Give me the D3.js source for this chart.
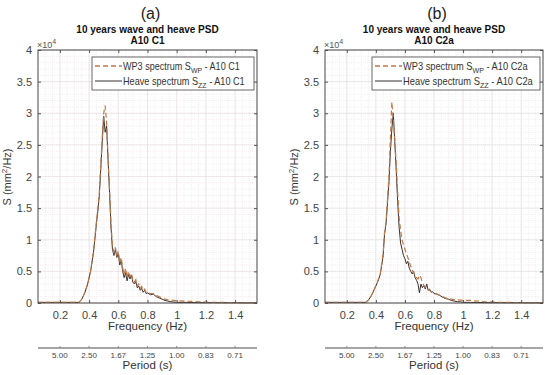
<!DOCTYPE html>
<html>
<head>
<meta charset="utf-8">
<script src="https://cdn.jsdelivr.net/npm/d3@7"></script>
<style>
  body { margin: 0; background: #fff; }
  svg text { font-family: "Liberation Sans", Arial, sans-serif; }
</style>
</head>
<body>
<svg id="chart" width="550" height="375"></svg>
<script>
// frequency grid (Hz) shared by all curves
const freq = [0.05, 0.10, 0.15, 0.20, 0.25, 0.30, 0.33, 0.35, 0.37, 0.39, 0.41, 0.43, 0.45, 0.46, 0.47, 0.49,
  0.50, 0.51, 0.52, 0.53, 0.54, 0.55, 0.56, 0.57, 0.58, 0.59, 0.60, 0.61, 0.62, 0.63, 0.64, 0.65, 0.66, 0.67,
  0.68, 0.69, 0.70, 0.71, 0.72, 0.73, 0.74, 0.75, 0.76, 0.77, 0.78, 0.79, 0.80, 0.82, 0.84, 0.86, 0.88, 0.90,
  0.92, 0.94, 0.96, 0.98, 1.00, 1.05, 1.10, 1.15, 1.20, 1.25, 1.30, 1.35, 1.40, 1.45, 1.50, 1.55];

// PSD values in units of 1e4 mm^2/Hz
const waveA = [0.01, 0.01, 0.01, 0.01, 0.01, 0.01, 0.01, 0.06, 0.16, 0.30, 0.50, 0.82, 1.28, 1.50, 1.75, 2.62,
  3.00, 3.12, 2.85, 2.30, 1.80, 1.25, 0.90, 0.80, 0.88, 0.76, 0.82, 0.64, 0.72, 0.55, 0.45, 0.55, 0.40, 0.50,
  0.42, 0.47, 0.36, 0.33, 0.37, 0.27, 0.30, 0.23, 0.26, 0.20, 0.22, 0.17, 0.18, 0.15, 0.15, 0.12, 0.10, 0.08,
  0.06, 0.05, 0.045, 0.04, 0.035, 0.03, 0.025, 0.02, 0.015, 0.01, 0.01, 0.008, 0.008, 0.006, 0.006, 0.005];
const heaveA = [0.01, 0.01, 0.01, 0.01, 0.01, 0.01, 0.01, 0.06, 0.16, 0.30, 0.50, 0.80, 1.25, 1.45, 1.70, 2.55,
  2.95, 2.70, 2.80, 2.25, 1.75, 1.20, 0.85, 0.75, 0.85, 0.72, 0.78, 0.60, 0.68, 0.50, 0.40, 0.48, 0.35, 0.45,
  0.38, 0.44, 0.33, 0.30, 0.34, 0.24, 0.27, 0.20, 0.23, 0.17, 0.20, 0.15, 0.16, 0.13, 0.14, 0.10, 0.08, 0.06,
  0.04, 0.03, 0.02, 0.015, 0.01, 0.01, 0.008, 0.006, 0.005, 0.005, 0.004, 0.004, 0.004, 0.003, 0.003, 0.003];
const waveB = [0.01, 0.01, 0.01, 0.01, 0.01, 0.01, 0.01, 0.05, 0.12, 0.22, 0.33, 0.46, 0.78, 1.12, 1.28, 2.00,
  2.60, 3.18, 2.90, 2.60, 2.20, 1.75, 1.35, 1.15, 1.00, 0.92, 0.85, 0.78, 0.72, 0.65, 0.58, 0.52, 0.48, 0.44,
  0.40, 0.38, 0.44, 0.40, 0.32, 0.28, 0.25, 0.24, 0.22, 0.20, 0.18, 0.17, 0.16, 0.14, 0.12, 0.10, 0.08, 0.07,
  0.06, 0.05, 0.05, 0.045, 0.04, 0.04, 0.03, 0.02, 0.02, 0.01, 0.01, 0.008, 0.008, 0.006, 0.006, 0.005];
const heaveB = [0.01, 0.01, 0.01, 0.01, 0.01, 0.01, 0.01, 0.05, 0.12, 0.22, 0.32, 0.45, 0.75, 1.10, 1.25, 1.90,
  2.40, 2.75, 3.00, 2.55, 2.10, 1.60, 1.20, 0.95, 0.85, 0.75, 0.70, 0.62, 0.66, 0.55, 0.50, 0.46, 0.50, 0.40,
  0.36, 0.30, 0.16, 0.30, 0.24, 0.28, 0.22, 0.30, 0.20, 0.22, 0.17, 0.18, 0.15, 0.14, 0.12, 0.09, 0.07, 0.06,
  0.04, 0.03, 0.02, 0.02, 0.01, 0.01, 0.008, 0.006, 0.005, 0.005, 0.004, 0.004, 0.004, 0.003, 0.003, 0.003];

const yTicks = [0, 0.5, 1, 1.5, 2, 2.5, 3, 3.5, 4];
const freqTicks = [0.2, 0.4, 0.6, 0.8, 1.0, 1.2, 1.4];
const periodLabels = ['5.00', '2.50', '1.67', '1.25', '1.00', '0.83', '0.71'];

const panels = [
  { tag: '(a)', sub: 'A10 C1', wave: waveA, heave: heaveA, x0: 38, x1: 257, lx: 92, tw: [117, 122] },
  { tag: '(b)', sub: 'A10 C2a', wave: waveB, heave: heaveB, x0: 325, x1: 543, lx: 372, tw: [125, 130] }
];

const plotTop = 50, plotBottom = 303;
const waveColor = '#c27a45';
const heaveColor = '#3a3131';
const svg = d3.select('#chart');

panels.forEach(p => {
  const g = svg.append('g');
  const x = d3.scaleLinear().domain([0.05, 1.55]).range([p.x0, p.x1]);
  const y = d3.scaleLinear().domain([0, 4]).range([plotBottom, plotTop]);
  const cx = (p.x0 + p.x1) / 2;

  // minor + major grid
  const minorX = d3.range(0.05, 1.551, 0.05);
  const minorY = d3.range(0, 4.001, 0.1);
  g.append('g').selectAll('line').data(minorX).join('line')
    .attr('x1', d => x(d)).attr('x2', d => x(d)).attr('y1', plotTop).attr('y2', plotBottom)
    .attr('stroke', '#f1e6eb').attr('stroke-width', 0.7).attr('stroke-dasharray', '1,1');
  g.append('g').selectAll('line').data(minorY).join('line')
    .attr('y1', d => y(d)).attr('y2', d => y(d)).attr('x1', p.x0).attr('x2', p.x1)
    .attr('stroke', '#f1e6eb').attr('stroke-width', 0.7).attr('stroke-dasharray', '1,1');
  g.append('g').selectAll('line').data(freqTicks).join('line')
    .attr('x1', d => x(d)).attr('x2', d => x(d)).attr('y1', plotTop).attr('y2', plotBottom)
    .attr('stroke', '#e8e2e5').attr('stroke-width', 0.8);
  g.append('g').selectAll('line').data(yTicks).join('line')
    .attr('y1', d => y(d)).attr('y2', d => y(d)).attr('x1', p.x0).attr('x2', p.x1)
    .attr('stroke', '#e8e2e5').attr('stroke-width', 0.8);

  // curves
  const line = d3.line().x((d, i) => x(freq[i])).y(d => y(d));
  g.append('path').datum(p.heave).attr('d', line)
    .attr('fill', 'none').attr('stroke', heaveColor).attr('stroke-width', 1);
  g.append('path').datum(p.wave).attr('d', line)
    .attr('fill', 'none').attr('stroke', waveColor).attr('stroke-width', 1.2)
    .attr('stroke-dasharray', '5,3');

  // axes box with inward ticks
  const axStyle = sel => {
    sel.select('.domain').remove();
    sel.selectAll('.tick line').attr('stroke', '#555');
    sel.selectAll('.tick text').attr('fill', '#444').style('font-size', '11px')
      .style('font-family', '"Liberation Sans", Arial, sans-serif');
  };
  g.append('g').attr('transform', `translate(0,${plotBottom})`)
    .call(d3.axisBottom(x).tickValues(freqTicks).tickSize(-3).tickPadding(8).tickFormat(d3.format('~g')))
    .call(axStyle);
  g.append('g').attr('transform', `translate(0,${plotTop})`)
    .call(d3.axisTop(x).tickValues(freqTicks).tickSize(-3).tickFormat(''))
    .call(axStyle);
  g.append('g').attr('transform', `translate(${p.x0},0)`)
    .call(d3.axisLeft(y).tickValues(yTicks).tickSize(-3).tickPadding(6).tickFormat(d3.format('~g')))
    .call(axStyle);
  g.append('g').attr('transform', `translate(${p.x1},0)`)
    .call(d3.axisRight(y).tickValues(yTicks).tickSize(-3).tickFormat(''))
    .call(axStyle);
  g.append('rect').attr('x', p.x0).attr('y', plotTop).attr('width', p.x1 - p.x0).attr('height', plotBottom - plotTop)
    .attr('fill', 'none').attr('stroke', '#4a4a4a').attr('stroke-width', 1);

  // exponent marker
  const ex = g.append('text').attr('x', p.x0 - 1).attr('y', 48).attr('fill', '#555').style('font-size', '9px');
  ex.append('tspan').text('×10');
  ex.append('tspan').attr('dy', -4).style('font-size', '7px').text('4');

  // titles
  g.append('text').attr('x', cx + 3).attr('y', 19).attr('text-anchor', 'middle')
    .attr('fill', '#222').style('font-size', '16px').text(p.tag);
  g.append('text').attr('x', cx).attr('y', 33).attr('text-anchor', 'middle')
    .attr('fill', '#111').style('font-size', '10px').style('font-weight', 'bold')
    .text('10 years wave and heave PSD');
  g.append('text').attr('x', cx).attr('y', 44).attr('text-anchor', 'middle')
    .attr('fill', '#111').style('font-size', '10px').style('font-weight', 'bold').text(p.sub);

  // axis labels
  g.append('text').attr('x', cx).attr('y', 330).attr('text-anchor', 'middle')
    .attr('fill', '#333').style('font-size', '11.5px').text('Frequency (Hz)');
  const yl = g.append('text').attr('transform', `translate(${p.x0 - 27},177) rotate(-90)`)
    .attr('text-anchor', 'middle').attr('fill', '#333').style('font-size', '11px');
  yl.append('tspan').text('S (mm');
  yl.append('tspan').attr('dy', -4).style('font-size', '8px').text('2');
  yl.append('tspan').attr('dy', 4).text('/Hz)');

  // period axis (1/f at frequency ticks)
  const pg = g.append('g');
  pg.append('line').attr('x1', p.x0).attr('x2', p.x1).attr('y1', 348).attr('y2', 348)
    .attr('stroke', '#888').attr('stroke-width', 1.5);
  pg.selectAll('line.pt').data(freqTicks).join('line').attr('class', 'pt')
    .attr('x1', d => x(d)).attr('x2', d => x(d)).attr('y1', 346).attr('y2', 348)
    .attr('stroke', '#888');
  pg.selectAll('text').data(freqTicks).join('text')
    .attr('x', d => x(d)).attr('y', 358).attr('text-anchor', 'middle')
    .attr('fill', '#444').style('font-size', '8px').text((d, i) => periodLabels[i]);
  g.append('text').attr('x', cx).attr('y', 369).attr('text-anchor', 'middle')
    .attr('fill', '#333').style('font-size', '11.5px').text('Period (s)');

  // legend
  const lx = p.lx;
  const lg = g.append('g');
  lg.append('rect').attr('x', lx).attr('y', 57).attr('width', p.x1 - 3 - lx).attr('height', 33)
    .attr('fill', '#fff').attr('stroke', '#444').attr('stroke-width', 0.8);
  const items = [
    { name: 'WP3 spectrum S', sub: 'WP', color: waveColor, dash: '5,3' },
    { name: 'Heave spectrum S', sub: 'ZZ', color: heaveColor, dash: null }
  ];
  items.forEach((it, i) => {
    const yy = 66 + i * 15;
    lg.append('line').attr('x1', lx + 3).attr('x2', lx + 30).attr('y1', yy).attr('y2', yy)
      .attr('stroke', it.color).attr('stroke-width', it.dash ? 1.3 : 1)
      .attr('stroke-dasharray', it.dash);
    const tg = lg.append('g');
    const t = tg.append('text').attr('x', 0).attr('y', 0).attr('fill', '#333')
      .style('font-size', '10.5px');
    t.append('tspan').text(it.name);
    t.append('tspan').attr('dy', 3).style('font-size', '8px').text(it.sub);
    t.append('tspan').attr('dy', -3).text(' -  ' + p.sub);
    const w = t.node().getBBox().width;
    tg.attr('transform', `translate(${lx + 31},${yy + 4}) scale(${p.tw[i] / w},1)`);
  });
});
</script>
</body>
</html>
